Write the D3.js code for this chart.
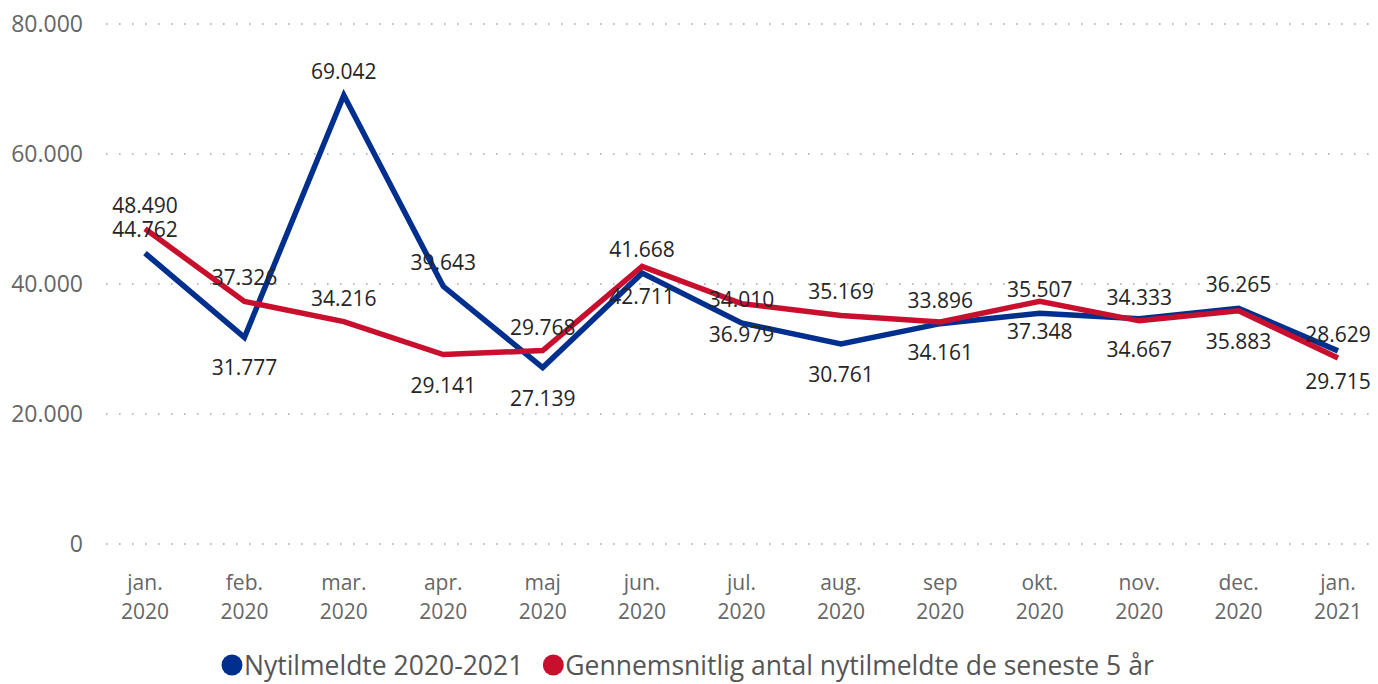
<!DOCTYPE html>
<html>
<head>
<meta charset="utf-8">
<script src="https://cdn.jsdelivr.net/npm/d3@7"></script>
<style>
	body{margin:0;background:#fff;}
	svg{display:block;font-family:"Segoe UI","Open Sans",sans-serif;}
</style>
</head>
<body>
<svg id="chart" width="1378" height="684"></svg>
<script>

var months = ["jan.\n2020","feb.\n2020","mar.\n2020","apr.\n2020","maj\n2020","jun.\n2020","jul.\n2020",
	"aug.\n2020","sep\n2020","okt.\n2020","nov.\n2020","dec.\n2020","jan.\n2021"];

var nytilmeldte = [44762,31777,69042,39643,27139,41668,34010,30761,33896,35507,34667,36265,29715];
var gennemsnit  = [48490,37326,34216,29141,29768,42711,36979,35169,34161,37348,34333,35883,28629];

var yTicks = [0,20000,40000,60000,80000];

// which side of the point each data label sits on (as in the original)
var blueLabelSide = ["up","down","up","up","down","up","up","down","up","up","down","up","down"];
var redLabelSide  = ["up","up","up","down","up","down","down","up","down","down","up","down","up"];

var series = [
	{name:"Nytilmeldte 2020-2021", values:nytilmeldte, color:"#002f8e", sides:blueLabelSide},
	{name:"Gennemsnitlig antal nytilmeldte de seneste 5 år", values:gennemsnit, color:"#c8102e", sides:redLabelSide}
];

var fmt = function(v){ return d3.format(",")(v).replace(/,/g,"."); };

var svg = d3.select("#chart");

var x = d3.scalePoint().domain(months).range([145,1338]);
var y = d3.scaleLinear().domain([0,80000]).range([544,24]);

// grid + y labels
var grid = svg.append("g");
grid.selectAll("line").data(yTicks).enter().append("line")
	.attr("x1",106).attr("x2",1372)
	.attr("y1",function(d){return y(d)}).attr("y2",function(d){return y(d)})
	.attr("stroke","#bdbdbd")
	.attr("stroke-width",2)
	.attr("stroke-dasharray","1.6,11.4");

grid.selectAll("text").data(yTicks).enter().append("text")
	.attr("x",83)
	.attr("y",function(d){return y(d)})
	.attr("dy","0.36em")
	.attr("text-anchor","end")
	.attr("fill","#666")
	.style("font-size","23px")
	.text(function(d){return fmt(d)});

// x labels
var xl = svg.append("g").selectAll("text").data(months).enter().append("text")
	.attr("text-anchor","middle")
	.attr("fill","#666")
	.style("font-size","21px");
xl.each(function(d){
	var el = d3.select(this);
	d.split("\n").forEach(function(part,i){
		el.append("tspan").attr("x",x(d)).attr("y",590 + i*29).text(part);
	});
});

// lines
var line = d3.line()
	.x(function(d,i){return x(months[i])})
	.y(function(d){return y(d)});

series.forEach(function(s){
	svg.append("path")
		.datum(s.values)
		.attr("fill","none")
		.attr("stroke",s.color)
		.attr("stroke-width",5.5)
		.attr("stroke-linejoin","miter")
		.attr("d",line);
});

// data labels
series.forEach(function(s){
	svg.append("g").selectAll("text").data(s.values).enter().append("text")
		.attr("x",function(d,i){return x(months[i])})
		.attr("y",function(d,i){return y(d) + (s.sides[i]=="up" ? -16 : 38)})
		.attr("text-anchor","middle")
		.attr("fill","#252525")
		.style("font-size","21px")
		.text(function(d){return fmt(d)});
});

// legend
var legend = svg.append("g");
var lx = 232;
series.forEach(function(s){
	legend.append("circle").attr("cx",lx).attr("cy",665).attr("r",10.5).attr("fill",s.color);
	var t = legend.append("text")
		.attr("x",lx+12).attr("y",665).attr("dy","0.36em")
		.attr("fill","#555")
		.style("font-size","26.5px")
		.text(s.name);
	lx = lx + 12 + t.node().getComputedTextLength() + 30;
});

</script>
</body>
</html>
